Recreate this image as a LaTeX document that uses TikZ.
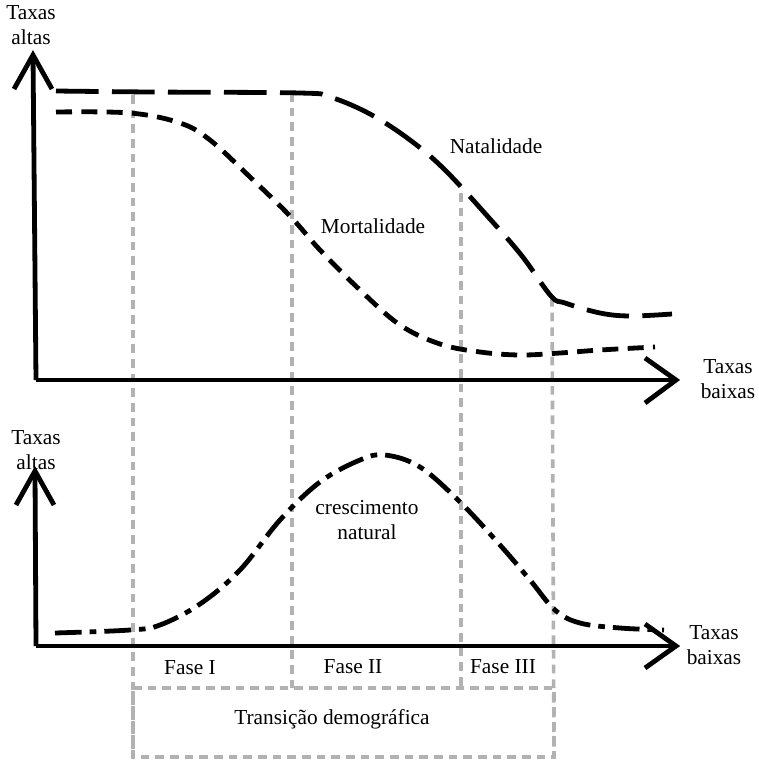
\documentclass[tikz,border=0pt]{standalone}
\usepackage{fontspec}
\setmainfont{Liberation Serif}
\begin{document}
\begin{tikzpicture}[x=0.75pt,y=-0.75pt,
  axis/.style={line width=3.6pt,black},
  guide/.style={line width=2.7pt,color=black!30,dash pattern=on 6.5pt off 4.5pt},
  natal/.style={line width=3.6pt,dash pattern=on 32pt off 10pt},
  mortal/.style={line width=3.6pt,dash pattern=on 12pt off 7pt},
  growth/.style={line width=3.6pt,dash pattern=on 20pt off 6pt on 5pt off 6pt},
  lbl/.style={font=\fontsize{16}{19}\selectfont,align=center,inner sep=0pt}]
\useasboundingbox (0,0) rectangle (758,761);
% guide lines
\coordinate (g1t) at (133,95);  \coordinate (g1b) at (133,757);
\coordinate (g2t) at (292,93);  \coordinate (g2b) at (292,688);
\coordinate (g3t) at (461,193); \coordinate (g3b) at (461,688);
\coordinate (g4t) at (552,298); \coordinate (g4b) at (554,757);
\draw[guide] (g1t) -- (g1b);
\draw[guide] (g2t) -- (g2b);
\draw[guide] (g3t) -- (g3b);
\draw[guide] (g4t) -- (g4b);
\coordinate (bx1) at (133,688); \coordinate (bx2) at (554,757);
\draw[guide] (bx1) -| (bx2) -| cycle;
% top axes
\coordinate (o1) at (36,380);
\coordinate (y1) at (33,55);
\coordinate (x1) at (676,380);
\draw[axis] (o1) -- (y1);
\draw[axis] (14,89) -- (y1) -- (52,89);
\draw[axis] (o1) -- (x1);
\draw[axis] (645,358) -- (x1) -- (645,403);
% bottom axes
\coordinate (o2) at (36,646);
\coordinate (y2) at (35,471);
\coordinate (x2) at (676,646);
\draw[axis] (o2) -- (y2);
\draw[axis] (16,505) -- (y2) -- (54,505);
\draw[axis] (o2) -- (x2);
\draw[axis] (645,624) -- (x2) -- (645,668);
% natalidade
\draw[natal] plot[smooth,tension=0.6] coordinates {(56,91) (150,92) (300,93) (330,97) (370,114) (410,140) (445,170) (490,219) (522,256) (551,296) (565,303) (600,313) (630,316) (672,314)};
% mortalidade
\draw[mortal] plot[smooth,tension=0.6] coordinates {(56,112) (130,113) (180,123) (210,140) (250,177) (290,216) (320,250) (360,290) (400,325) (440,344) (480,352) (520,355) (560,353) (600,350) (655,347)};
% crescimento
\draw[growth] plot[smooth,tension=0.6] coordinates {(55,633) (130,630) (160,625) (200,604) (240,570) (280,520) (320,482) (360,460) (385,455) (420,467) (460,502) (500,545) (530,580) (555,610) (580,623) (620,628) (664,630)};
% labels
\node[lbl] (ta1) at (31,25) {Taxas\\altas};
\node[lbl] (tb1) at (728,379) {Taxas\\baixas};
\node[lbl] (ta2) at (36,450) {Taxas\\altas};
\node[lbl] (tb2) at (714,645) {Taxas\\baixas};
\node[lbl] (nat) at (496,146) {Natalidade};
\node[lbl] (mor) at (373,226) {Mortalidade};
\node[lbl] (cre) at (367,520) {crescimento\\natural};
\node[lbl] (f1) at (190,668) {Fase I};
\node[lbl] (f2) at (353,667) {Fase II};
\node[lbl] (f3) at (503,667) {Fase III};
\node[lbl] (tr) at (332,719) {Transição demográfica};
\end{tikzpicture}
\end{document}
